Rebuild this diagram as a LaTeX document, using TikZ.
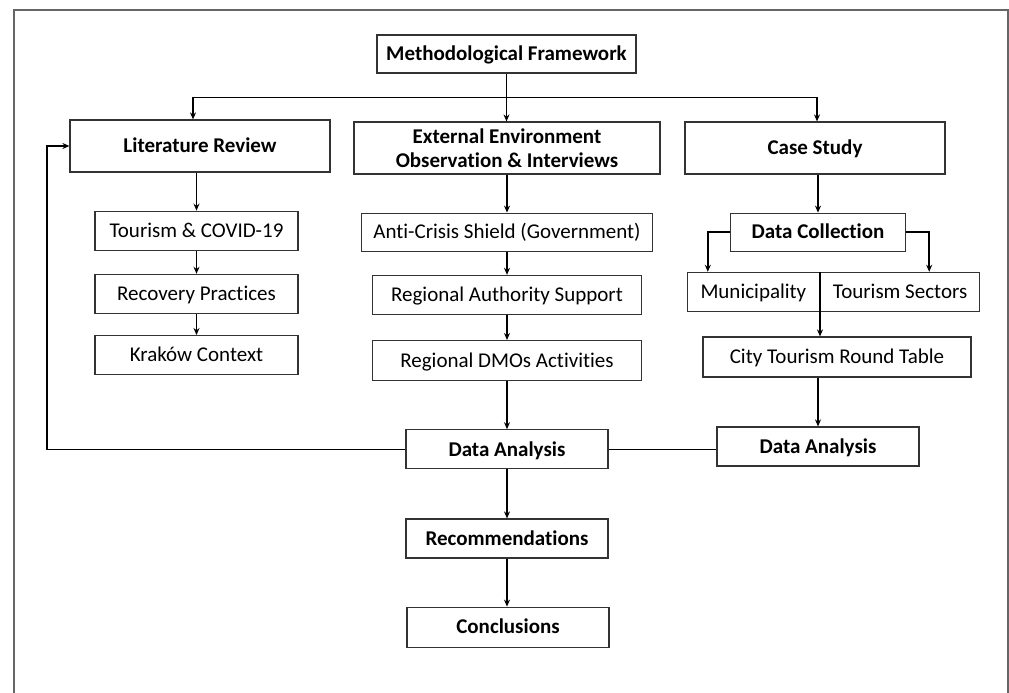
\documentclass[tikz,border=0pt]{standalone}
\usepackage{fontspec}
\setmainfont{Carlito}[Ligatures=NoCommon]
\usetikzlibrary{positioning, arrows.meta}

\tikzset{
  head/.style={draw=black!80, line width=1.2pt, rectangle, align=center, inner sep=0pt,
    minimum height=38pt, text height=15pt, text depth=1.5pt, font=\bfseries\fontsize{21}{24}\selectfont},
  sub/.style={draw=black!80, line width=1.2pt, rectangle, inner sep=0pt,
    minimum height=39pt, text height=15pt, text depth=1.5pt, font=\fontsize{21}{24}\selectfont},
  link/.style={line width=1.6pt, ->},
  plain/.style={line width=1.6pt}
}

\begin{document}
\begin{tikzpicture}[x=1pt, y=1pt, >={Stealth[length=7pt,width=6pt]}]
    \useasboundingbox (0,0) rectangle (1009,-693);
    % outer frame
    \draw[black!60, line width=1.5pt] (14,-693) -- (14,-10) -- (1008,-10) -- (1008,-693);
    % top node and the three columns
    \node[head, minimum width=259pt] (mf) at (506.5,-54) {Methodological Framework};
    \node[head, minimum width=260pt, minimum height=52pt] (lit) at (200,-146) {Literature Review};
    \node[head, minimum width=306pt, minimum height=52pt, text height=, text depth=] (ext) at (507,-148) {External Environment\\Observation \& Interviews};
    \node[head, minimum width=260pt, minimum height=52pt] (case) at (815,-148) {Case Study};
    % literature column
    \node[sub, minimum width=203pt, below=38pt of lit, xshift=-3.5pt] (tc) {Tourism \& COVID-19};
    \node[sub, minimum width=203pt, below=23pt of tc] (rp) {Recovery Practices};
    \node[sub, minimum width=203pt, below=21pt of rp] (kc) {Kraków Context};
    % environment column
    \node[sub, minimum width=291pt, minimum height=38pt, below=38pt of ext] (acs) {Anti-Crisis Shield (Government)};
    \node[sub, minimum width=269pt, below=23pt of acs] (ras) {Regional Authority Support};
    \node[sub, minimum width=269pt, minimum height=40pt, below=25pt of ras] (dmo) {Regional DMOs Activities};
    \node[head, minimum width=202pt, minimum height=39pt, below=48pt of dmo] (da) {Data Analysis};
    \node[head, minimum width=202pt, minimum height=39pt, below=49pt of da] (rec) {Recommendations};
    \node[head, minimum width=202pt, minimum height=40pt, below=48pt of rec, xshift=1pt] (conc) {Conclusions};
    % case study column
    \node[head, minimum width=175pt, below=38pt of case, xshift=3pt] (dc) {Data Collection};
    \node[sub, minimum width=132pt, below=20pt of dc, anchor=north east, xshift=2pt] (mun) {Municipality};
    \node[sub, minimum width=159pt, right=0pt of mun] (ts) {Tourism Sectors};
    \node[sub, minimum width=268pt, minimum height=40pt] (ctr) at (837,-357) {City Tourism Round Table};
    \node[head, minimum width=202pt, minimum height=39pt] (da2) at (818,-446.5) {Data Analysis};
    \coordinate (ret) at (47,-146);
    % connections from the top
    \draw[link] (mf.south) -- (mf.south |- ext.north);
    \draw[link] ([yshift=-24pt]mf.south) -| ([xshift=-7pt]lit.north);
    \draw[link] ([yshift=-24pt]mf.south) -| ([xshift=2pt]case.north);
    % literature column
    \draw[link] (tc.north |- lit.south) -- (tc.north);
    \draw[link] (tc) -- (rp);
    \draw[link] (rp) -- (kc);
    % environment column
    \draw[link] (ext) -- (acs);
    \draw[link] (acs) -- (ras);
    \draw[link] (ras) -- (dmo);
    \draw[link] (dmo.south) -- (dmo.south |- da.north);
    \draw[link] (da) -- (rec);
    \draw[link] (rec.south) -- (rec.south |- conc.north);
    % case study column
    \draw[link] (dc.north |- case.south) -- (dc.north);
    \draw[link] (dc.west) -| ([xshift=21pt]mun.north west);
    \draw[link] (dc.east) -| ([xshift=-51pt]ts.north east);
    \draw[link] (mun.north east) -- (mun.north east |- ctr.north);
    \draw[link] (da2.north |- ctr.south) -- (da2.north);
    % joining the analyses, feedback to the review
    \draw[plain] (da.east) -- (da.east -| da2.west);
    \draw[link] (da.west) -| (ret) -- (lit.west);
\end{tikzpicture}
\end{document}
